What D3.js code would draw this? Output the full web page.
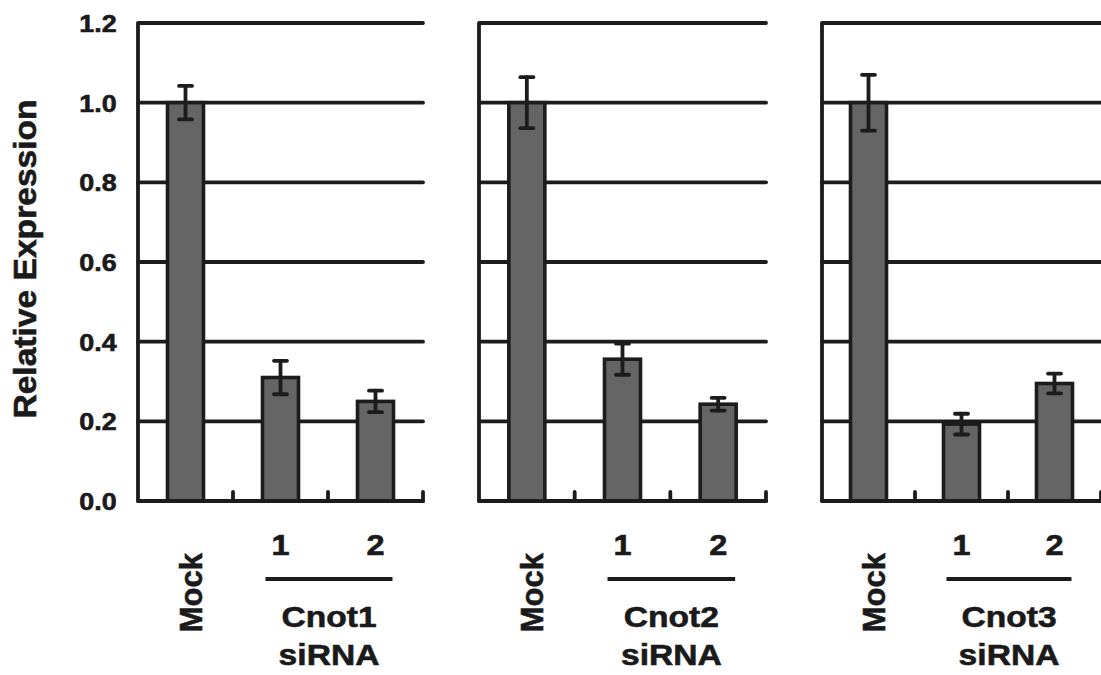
<!DOCTYPE html>
<html>
<head>
<meta charset="utf-8">
<script src="https://cdn.jsdelivr.net/npm/d3@7"></script>
<style>
  html, body { margin: 0; padding: 0; background: #fff; }
  svg { display: block; }
  text { font-family: "Liberation Sans", Arial, sans-serif; font-weight: bold; fill: #1a1a1a; stroke: #1a1a1a; stroke-width: 0.6px; }
</style>
</head>
<body>
<script>
// ---- data ----
const groups = ["Cnot1", "Cnot2", "Cnot3"];
const categories = ["Mock", "1", "2"];
const cnot1Values = [1.0, 0.31, 0.25];
const cnot1Errors = [0.042, 0.042, 0.027];
const cnot2Values = [1.0, 0.356, 0.243];
const cnot2Errors = [0.064, 0.039, 0.016];
const cnot3Values = [1.0, 0.193, 0.295];
const cnot3Errors = [0.07, 0.026, 0.025];
const yTicks = [0.0, 0.2, 0.4, 0.6, 0.8, 1.0, 1.2];
const yTitle = "Relative Expression";
const groupSuffix = "siRNA";

const seriesValues = [cnot1Values, cnot2Values, cnot3Values];
const seriesErrors = [cnot1Errors, cnot2Errors, cnot3Errors];

// ---- layout ----
const W = 1101, H = 675;
const panelRanges = [[138, 423], [479, 766], [822, 1101]];
const ink = "#1c1c1c";
const lw = 3.8;
const sx = 1.12; // horizontal widening of the lettering

const svg = d3.select("body").append("svg").attr("width", W).attr("height", H);

const y = d3.scaleLinear().domain([0, 1.2]).range([501, 23]);

// Y axis title
svg.append("text")
  .attr("transform", `translate(36,${(y(0) + y(1.2)) / 2 - 3}) rotate(-90) scale(1.05,1)`)
  .attr("text-anchor", "middle")
  .style("font-size", "32px")
  .text(yTitle);

groups.forEach((g, gi) => {
  const [x0, x1] = panelRanges[gi];
  const x = d3.scaleBand().domain(categories).range([x0, x1]).padding(0);
  const p = svg.append("g");
  const vals = seriesValues[gi], errs = seriesErrors[gi];
  const data = categories.map((c, i) => ({ c, v: vals[i], e: errs[i] }));

  // gridlines (excluding 0 and top)
  p.selectAll("line.grid").data(yTicks.filter(t => t > 0 && t < 1.2)).join("line")
    .attr("x1", x0).attr("x2", x1)
    .attr("y1", d => y(d)).attr("y2", d => y(d))
    .attr("stroke", ink).attr("stroke-width", lw).attr("stroke-linecap", "round");

  // frame: top line, left axis, bottom axis
  const path = d3.path();
  path.moveTo(x1, y(1.2));
  path.lineTo(x0, y(1.2));
  path.lineTo(x0, y(0));
  path.lineTo(x1, y(0));
  p.append("path").attr("d", path.toString())
    .attr("fill", "none").attr("stroke", ink).attr("stroke-width", lw)
    .attr("stroke-linejoin", "round").attr("stroke-linecap", "round");

  // x ticks at band boundaries
  const bounds = categories.map(c => x(c) + x.bandwidth());
  p.selectAll("line.xt").data(bounds).join("line")
    .attr("x1", d => d).attr("x2", d => d)
    .attr("y1", y(0)).attr("y2", y(0) - 9)
    .attr("stroke", ink).attr("stroke-width", lw).attr("stroke-linecap", "round");

  // bars
  const bw = 36;
  p.selectAll("rect.bar").data(data).join("rect")
    .attr("x", d => x(d.c) + x.bandwidth() / 2 - bw / 2)
    .attr("width", bw)
    .attr("y", d => y(d.v))
    .attr("height", d => y(0) - y(d.v))
    .attr("fill", "#656565").attr("stroke", ink).attr("stroke-width", 3.6);

  // redraw bottom axis over bar bottoms
  p.append("line").attr("x1", x0).attr("x2", x1).attr("y1", y(0)).attr("y2", y(0))
    .attr("stroke", ink).attr("stroke-width", lw).attr("stroke-linecap", "round");

  // error bars
  const cap = 6.5;
  const eb = p.selectAll("g.err").data(data).join("g")
    .attr("stroke", ink).attr("stroke-width", 3.8).attr("stroke-linecap", "round");
  eb.append("line")
    .attr("x1", d => x(d.c) + x.bandwidth() / 2).attr("x2", d => x(d.c) + x.bandwidth() / 2)
    .attr("y1", d => y(d.v + d.e)).attr("y2", d => y(d.v - d.e));
  eb.append("line")
    .attr("x1", d => x(d.c) + x.bandwidth() / 2 - cap).attr("x2", d => x(d.c) + x.bandwidth() / 2 + cap)
    .attr("y1", d => y(d.v + d.e)).attr("y2", d => y(d.v + d.e));
  eb.append("line")
    .attr("x1", d => x(d.c) + x.bandwidth() / 2 - cap).attr("x2", d => x(d.c) + x.bandwidth() / 2 + cap)
    .attr("y1", d => y(d.v - d.e)).attr("y2", d => y(d.v - d.e));

  // y tick labels only on first panel
  if (gi === 0) {
    const ax = d3.axisLeft(y).tickValues(yTicks).tickSize(0).tickPadding(19).tickFormat(d3.format(".1f"));
    const ag = p.append("g").attr("transform", `translate(${x0},0)`).call(ax);
    ag.select(".domain").remove();
    ag.selectAll("text")
      .attr("font-family", null).attr("fill", ink)
      .attr("transform", `scale(${sx},1)`)
      .style("font-size", "24px").style("font-weight", "bold")
      .attr("dy", "0.36em");
  }

  // category labels
  const cx = c => x(c) + x.bandwidth() / 2;
  p.append("text")
    .attr("transform", `translate(${cx(categories[0]) + 16},553) rotate(-90)`)
    .attr("text-anchor", "end")
    .style("font-size", "31px")
    .text(categories[0]);
  p.selectAll("text.num").data(categories.slice(1)).join("text")
    .attr("transform", d => `translate(${cx(d)},555) scale(${sx},1)`)
    .attr("text-anchor", "middle")
    .style("font-size", "29px")
    .text(d => d);
  const lx1 = cx(categories[1]) - 15, lx2 = cx(categories[2]) + 17;
  p.append("line").attr("x1", lx1).attr("x2", lx2).attr("y1", 579).attr("y2", 579)
    .attr("stroke", ink).attr("stroke-width", 4);
  p.append("text")
    .attr("transform", `translate(${(lx1 + lx2) / 2},627) scale(${sx},1)`)
    .attr("text-anchor", "middle").style("font-size", "30px").text(g);
  p.append("text")
    .attr("transform", `translate(${(lx1 + lx2) / 2},665) scale(${sx},1)`)
    .attr("text-anchor", "middle").style("font-size", "30px").text(groupSuffix);
});
</script>
</body>
</html>
